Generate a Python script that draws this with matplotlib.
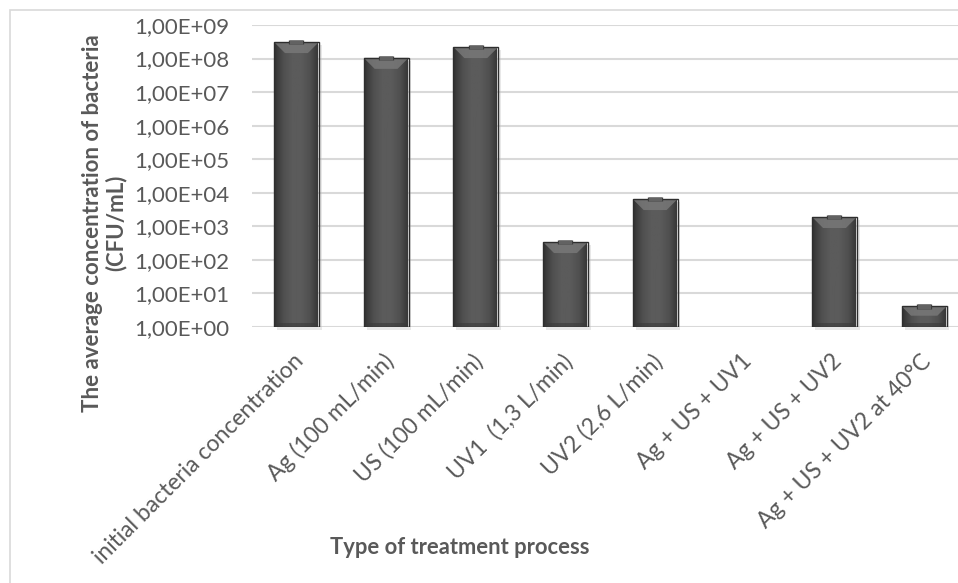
import numpy as np
import matplotlib
matplotlib.use('Agg')
import matplotlib.pyplot as plt
import matplotlib.colors as mplc
import matplotlib.patheffects as pe
from matplotlib.patches import Rectangle, Polygon

# data
categories = ['initial bacteria concentration', 'Ag (100 mL/min)', 'US (100 mL/min)',
              'UV1  (1,3 L/min)', 'UV2 (2,6 L/min)', 'Ag + US + UV1',
              'Ag + US + UV2', 'Ag + US + UV2 at 40°C']
means = [3.1e8, 1.05e8, 2.2e8, 3.4e2, 6.5e3, 0, 1.9e3, 4.1]
errors = [4.5e7, 1.5e7, 3.2e7, 5.0e1, 9.5e2, 0, 2.8e2, 0.6]
yticks = [10.0 ** k for k in range(0, 10)]
ytick_labels = ['1,00E+%02d' % k for k in range(0, 10)]

plt.rcParams['font.family'] = ['Lato', 'DejaVu Sans']
text_col = '#595959'
grid_col = '#d9d9d9'

W, H = 958, 583
fig = plt.figure(figsize=(W / 100, H / 100), dpi=100)
ax = fig.add_axes([251.6 / W, (H - 327) / H, (969 - 251.6) / W, (327 - 25) / H])

ax.set_yscale('log')
ax.set_ylim(1, 1e9)
ax.set_xlim(-0.5, len(categories) - 0.5)
ax.set_yticks(yticks)
ax.set_yticklabels(ytick_labels)
ax.minorticks_off()
ax.tick_params(axis='y', length=0, pad=16, labelsize=16, labelcolor=text_col)
ax.tick_params(axis='x', length=0)
ax.set_xticks([])
for s in ['left', 'right', 'top', 'bottom']:
    ax.spines[s].set_visible(False)
ax.grid(axis='y', color=grid_col, lw=1.5, zorder=0)
ax.set_axisbelow(True)

# pixel helpers
def to_px(x, y):
    return ax.transData.transform((x, y))

def to_data(px, py):
    return ax.transData.inverted().transform((px, py))

shade = mplc.LinearSegmentedColormap.from_list('bar', ['#333333', '#4f4f4f', '#5b5b5b', '#5b5b5b', '#4f4f4f', '#333333'])
grad = np.linspace(0, 1, 256).reshape(1, -1)
bw = 0.5
bevel_px = 11

for i, (m, e) in enumerate(zip(means, errors)):
    if m <= 0:
        continue
    x0, x1 = i - bw / 2, i + bw / 2
    # soft shadow
    ax.add_patch(Rectangle((x0 + 0.01, 1), bw, m, facecolor='#bfbfbf', edgecolor='none',
                           alpha=0.35, zorder=1, clip_on=False,
                           transform=ax.transData + matplotlib.transforms.ScaledTranslation(2 / 100, -3 / 100, fig.dpi_scale_trans)))
    rect = Rectangle((x0, 1), bw, m - 1, facecolor='none', edgecolor='#2e2e2e', lw=1, zorder=3)
    ax.add_patch(rect)
    im = ax.imshow(grad, cmap=shade, aspect='auto', extent=(x0, x1, 1, m), zorder=2,
                   interpolation='bilinear')
    im.set_clip_path(rect)
    # top bevel
    lx, ty = to_px(x0, m)
    rx, _ = to_px(x1, m)
    h = min(bevel_px, (ty - to_px(x0, 1)[1]) * 0.45)
    pts = [to_data(lx, ty), to_data(rx, ty), to_data(rx - h, ty - h), to_data(lx + h, ty - h)]
    ax.add_patch(Polygon(pts, closed=True, facecolor='#7a7a7a', edgecolor='none', alpha=0.8, zorder=2.5))
    # bottom darker band
    _, by = to_px(x0, 1)
    pts_b = [to_data(lx, by), to_data(rx, by), to_data(rx - 4, by + 4), to_data(lx + 4, by + 4)]
    ax.add_patch(Polygon(pts_b, closed=True, facecolor='#3a3a3a', edgecolor='none', alpha=0.6, zorder=2.5))

# error bars (drawn as small boxes like the original)
xs = [i for i, m in enumerate(means) if m > 0]
ys = [m for m in means if m > 0]
es = [e for m, e in zip(means, errors) if m > 0]
eb = ax.errorbar(xs, ys, yerr=es, fmt='none', ecolor='#626262', elinewidth=9.5, capsize=0, zorder=4)
for c in eb[2]:
    c.set_path_effects([pe.Stroke(linewidth=11, foreground='#3a3a3a'), pe.Normal()])

# category labels
for i, lab in enumerate(categories):
    px, py = to_px(i, 1)
    fx, fy = (px + 4) / W, (py - 31) / H
    fig.text(fx, fy, lab, rotation=45, rotation_mode='anchor', ha='right', va='center',
             fontsize=16.5, color=text_col)

fig.text(460 / W, (H - 548) / H, 'Type of treatment process', ha='center', va='center',
         fontsize=15.8, fontweight='bold', color=text_col)
fig.text(104 / W, (H - 223) / H, 'The average concentration of bacteria\n(CFU/mL)',
         rotation=90, ha='center', va='center', multialignment='center',
         fontsize=16, fontweight='bold', color=text_col, linespacing=1.1)

# outer chart border
fig.patches.append(Rectangle((10 / W, -0.1), 1.2, (H - 10) / H + 0.1, transform=fig.transFigure,
                             facecolor='none', edgecolor=grid_col, lw=1.2))

fig.savefig('out.png', dpi=100)
